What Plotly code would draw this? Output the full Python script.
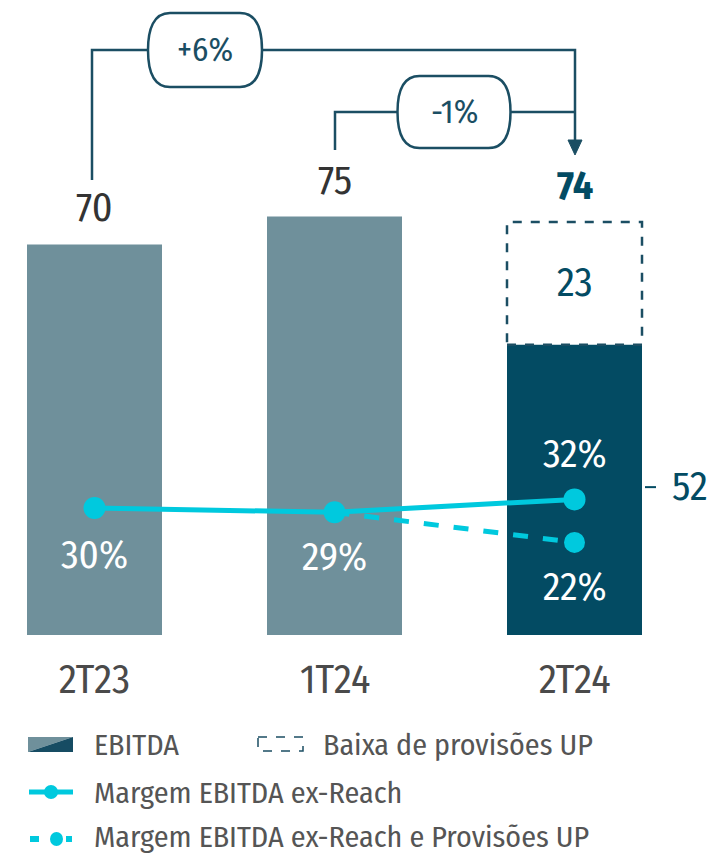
import plotly.graph_objects as go

# ---------------- data ----------------
categories = ["2T23", "1T24", "2T24"]
ebitda = [70, 75, 74]
ebitda_ex_prov = 52          # dark bar in 2T24
provisoes_up = 23            # dashed part label
margem = [30, 29, 32]        # Margem EBITDA ex-Reach (%)
margem_ex_prov = [29, 22]    # 1T24 -> 2T24 ex-Reach e Provisões UP (%)
var_labels = ["+6%", "-1%"]
legend_labels = ["EBITDA", "Baixa de provisões UP",
                 "Margem EBITDA ex-Reach", "Margem EBITDA ex-Reach e Provisões UP"]

# ---------------- style / geometry ----------------
W, H = 715, 854
FONT = "Fira Sans Condensed, Roboto, Noto Sans, sans-serif"
GRAY = "#6f909b"
DARK = "#034b63"
CYAN = "#00c9de"
LINE = "#1b4e63"
TXT = "#4a4a4a"
LEG = "#555555"

X0PX, XSTEP = 94.5, 240.0
Y0PX, YS = 635.0, 5.58
Y2REF, Y2VAL, Y2S = 508.0, 30.0, 4.3


def xd(px):
    return (px - X0PX) / XSTEP


def yd(py):
    return (Y0PX - py) / YS


xs = list(range(len(categories)))
bar_w = 135 / XSTEP

fig = go.Figure()

bar_vals = [ebitda[0], ebitda[1], ebitda_ex_prov]
fig.add_trace(go.Bar(x=xs, y=bar_vals, width=bar_w,
                     marker=dict(color=[GRAY, GRAY, DARK], line=dict(width=0)),
                     hoverinfo="skip", showlegend=False))

# dashed "Baixa de provisões" box
fig.add_shape(type="rect", xref="x", yref="y",
              x0=2 - bar_w / 2, x1=2 + bar_w / 2, y0=ebitda_ex_prov, y1=ebitda[2],
              line=dict(color=LINE, width=2.5, dash="dash"), fillcolor="rgba(0,0,0,0)")

# margin lines (secondary axis)
fig.add_trace(go.Scatter(x=[1, 2], y=margem_ex_prov, yaxis="y2", mode="lines",
                         line=dict(color=CYAN, width=5, dash="dash"),
                         hoverinfo="skip", showlegend=False))
fig.add_trace(go.Scatter(x=[2], y=[margem_ex_prov[1]], yaxis="y2", mode="markers",
                         marker=dict(size=21, color=CYAN, line=dict(width=0)),
                         hoverinfo="skip", showlegend=False))
fig.add_trace(go.Scatter(x=xs, y=margem, yaxis="y2", mode="lines+markers",
                         line=dict(color=CYAN, width=5),
                         marker=dict(size=22, color=CYAN, line=dict(width=0)),
                         hoverinfo="skip", showlegend=False))

ann = []
# top value labels
for i, v in enumerate(ebitda):
    bold = i == 2
    ann.append(dict(x=i, y=v, xref="x", yref="y", text=f"<b>{v}</b>" if bold else str(v),
                    showarrow=False, yshift=36,
                    font=dict(size=40, color=DARK if bold else "#333333", family=FONT)))
# category labels
for i, c in enumerate(categories):
    ann.append(dict(x=i, y=0, xref="x", yref="y", text=c, showarrow=False, yshift=-45,
                    font=dict(size=40, color=TXT, family=FONT)))
# provisions label
ann.append(dict(x=2, y=(ebitda_ex_prov + ebitda[2]) / 2, xref="x", yref="y",
                text=str(provisoes_up), showarrow=False, yshift=0,
                font=dict(size=40, color=DARK, family=FONT)))
# 52 label with tick
ann.append(dict(x=xd(690), y=ebitda_ex_prov / 2, xref="x", yref="y", text=str(ebitda_ex_prov),
                showarrow=False, yshift=3, font=dict(size=40, color=DARK, family=FONT)))
fig.add_shape(type="line", xref="x", yref="y", x0=xd(645), x1=xd(656),
              y0=ebitda_ex_prov / 2 + 0.5, y1=ebitda_ex_prov / 2 + 0.5, line=dict(color=DARK, width=2))

# margin labels
pct_shift = [-47, -45, 45]
for i, v in enumerate(margem):
    ann.append(dict(x=i, y=v, xref="x", yref="y2", text=f"{v}%", showarrow=False,
                    yshift=pct_shift[i], font=dict(size=39, color="white", family=FONT)))
ann.append(dict(x=2, y=margem_ex_prov[1], xref="x", yref="y2", text=f"{margem_ex_prov[1]}%",
                showarrow=False, yshift=-45, font=dict(size=39, color="white", family=FONT)))


def pts(seq):
    return " ".join(f"{'M' if k == 0 else 'L'} {xd(a):.5f},{yd(b):.5f}" for k, (a, b) in enumerate(seq))


# brackets
fig.add_shape(type="path", xref="x", yref="y", path=pts([(92, 180), (92, 50), (575, 50), (575, 142)]),
              line=dict(color=LINE, width=2.5))
fig.add_shape(type="path", xref="x", yref="y", path=pts([(335, 150), (335, 112), (575, 112)]),
              line=dict(color=LINE, width=2.5))
fig.add_shape(type="path", xref="x", yref="y", path=pts([(568, 140), (582, 140), (575, 155)]) + " Z",
              line=dict(color=LINE, width=1), fillcolor=LINE)


def pill(cx, cy, w, h, r=22):
    x0, x1 = cx - w / 2, cx + w / 2
    t, b = cy - h / 2, cy + h / 2

    def P(a, c):
        return f"{xd(a):.5f},{yd(c):.5f}"
    return (f"M {P(x0 + r, t)} L {P(x1 - r, t)} "
            f"C {P(x1 - r * 0.25, t)} {P(x1, t + h * 0.22)} {P(x1, cy)} "
            f"C {P(x1, b - h * 0.22)} {P(x1 - r * 0.25, b)} {P(x1 - r, b)} "
            f"L {P(x0 + r, b)} "
            f"C {P(x0 + r * 0.25, b)} {P(x0, b - h * 0.22)} {P(x0, cy)} "
            f"C {P(x0, t + h * 0.22)} {P(x0 + r * 0.25, t)} {P(x0 + r, t)} Z")


for (cx, cy, w, h), lab in zip([(205, 50, 114, 74), (454, 112, 113, 72)], var_labels):
    fig.add_shape(type="path", xref="x", yref="y", path=pill(cx, cy, w, h),
                  line=dict(color=LINE, width=2.5), fillcolor="white")
    ann.append(dict(x=xd(cx), y=yd(cy), xref="x", yref="y", text=lab, showarrow=False,
                    font=dict(size=33, color=LINE, family=FONT)))

# ---------------- legend (drawn) ----------------
fig.add_shape(type="path", xref="x", yref="y", path=pts([(28, 737), (73, 737), (28, 752)]) + " Z",
              line=dict(width=0), fillcolor=GRAY)
fig.add_shape(type="path", xref="x", yref="y", path=pts([(73, 737), (73, 752), (28, 752)]) + " Z",
              line=dict(width=0), fillcolor="#164c63")
fig.add_shape(type="rect", xref="x", yref="y", x0=xd(258), x1=xd(303), y0=yd(737), y1=yd(751),
              line=dict(color=LINE, width=1.5, dash="dash"), fillcolor="rgba(0,0,0,0)")
fig.add_shape(type="line", xref="x", yref="y", x0=xd(29), x1=xd(73), y0=yd(792), y1=yd(792),
              line=dict(color=CYAN, width=5))
fig.add_shape(type="circle", xref="x", yref="y", x0=xd(44), x1=xd(58), y0=yd(785), y1=yd(799),
              line=dict(width=0), fillcolor=CYAN)
fig.add_shape(type="rect", xref="x", yref="y", x0=xd(30), x1=xd(39), y0=yd(836), y1=yd(842),
              line=dict(width=0), fillcolor=CYAN)
fig.add_shape(type="rect", xref="x", yref="y", x0=xd(66), x1=xd(72), y0=yd(836), y1=yd(842),
              line=dict(width=0), fillcolor=CYAN)
fig.add_shape(type="circle", xref="x", yref="y", x0=xd(50), x1=xd(63), y0=yd(832), y1=yd(846),
              line=dict(width=0), fillcolor=CYAN)

for (px, py), lab in zip([(92, 745), (321, 745), (92, 793), (92, 837)], legend_labels):
    ann.append(dict(x=xd(px), y=yd(py), xref="x", yref="y", text=lab, showarrow=False,
                    xanchor="left", yanchor="middle",
                    font=dict(size=30, color=LEG, family=FONT)))

fig.update_layout(
    width=W, height=H, margin=dict(l=0, r=0, t=0, b=0),
    paper_bgcolor="white", plot_bgcolor="white",
    barmode="overlay", annotations=ann,
    xaxis=dict(range=[xd(0), xd(W)], visible=False, fixedrange=True),
    yaxis=dict(range=[yd(H), yd(0)], visible=False, fixedrange=True),
    yaxis2=dict(range=[Y2VAL - (H - Y2REF) / Y2S, Y2VAL + Y2REF / Y2S], overlaying="y",
                visible=False, fixedrange=True),
)

fig.write_html("out.html", config={"displayModeBar": False},
               post_script="document.body.style.margin='0';")
